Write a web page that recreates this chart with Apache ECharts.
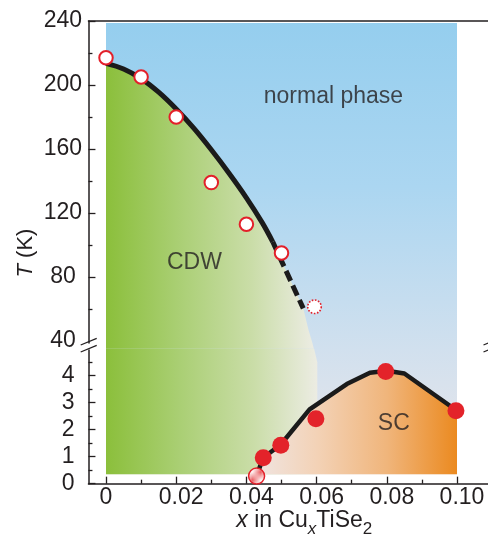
<!DOCTYPE html>
<html><head><meta charset="utf-8">
<style>html,body{margin:0;padding:0;background:#fff}#c{width:488px;height:535px}</style>
<script src="https://cdn.jsdelivr.net/npm/echarts@6/dist/echarts.min.js"></script>
</head><body><div id="c"></div>
<script>
// ---------------- data ----------------
const xTickLabels = [0, 0.02, 0.04, 0.06, 0.08, 0.10];
const xMinorTicks = [0.01, 0.03, 0.05, 0.07, 0.09];
const tHighLabels = [40, 80, 120, 160, 200, 240];
const tHighTicks = [80, 120, 160, 200, 240];
const tHighMinor = [60, 100, 140, 180, 220];
const tLowLabels = [0, 1, 2, 3, 4];
const tLowMinor = [0.5, 1.5, 2.5, 3.5, 4.5];

// CDW transition (open circles) and guide line
const cdwX = [0, 0.01, 0.02, 0.03, 0.04, 0.05];
const cdwT = [217, 205, 180, 139, 113, 95];
const cdwUncertain = [[0.0594, 61.4]];
const cdwSolid = [[0,213.5],[0.005,210],[0.01,204],[0.015,195.5],[0.02,185],[0.025,173],[0.03,159.5],[0.035,145],[0.04,129.5],[0.0445,114],[0.0475,102]];
const cdwDashed = [[0.0475,102],[0.0562,60.4]];
const cdwEdgeHigh = [[0.0577,46.9],[0.0588,38.75],[0.0593,34.4]];
const cdwEdgeLow = [[0.0593,5.0],[0.0602,4.5],[0.0602,0.35]];

// superconducting Tc (filled circles) and guide line
const scX = [0.0448, 0.0498, 0.0598, 0.0797, 0.0997];
const scT = [0.96, 1.42, 2.4, 4.15, 2.7];
const scOnset = [[0.0429, 0.28]];
const scLine = [[0.0432,0.4],[0.0448,0.96],[0.0498,1.45],[0.058,2.75],[0.0686,3.69],[0.0752,4.11],[0.08,4.18],[0.085,4.08],[0.1,2.7]];

// phase-region extents
const regionX = [0, 0.1];
const regionHighT = [34.4, 238.75];
const regionLowT = [0.35, 5.0];

// text annotations
const phaseLabels = [[0.0648, 192.5, 'normal phase'], [0.0252, 89, 'CDW']];
const scLabel = [[0.082, 2.21, 'SC']];

// ---------------- chart ----------------
const FONT = "'Liberation Sans', Arial, sans-serif";
const INK = '#231f20';
const chart = echarts.init(document.getElementById('c'), null, {renderer:'canvas'});

const pc = document.createElement('canvas'); pc.width = 4; pc.height = 4;
const g = pc.getContext('2d');
g.fillStyle = '#fdf3f2'; g.fillRect(0,0,4,4);
g.strokeStyle = '#ea5c60'; g.lineWidth = 1;
g.beginPath(); g.moveTo(0,4); g.lineTo(4,0); g.moveTo(-1,1); g.lineTo(1,-1); g.moveTo(3,5); g.lineTo(5,3); g.stroke();

function poly(xi, yi, pts, fill, z) {
  return {type:'custom', xAxisIndex:xi, yAxisIndex:yi, z:z, silent:true, clip:false, data:[0],
    renderItem:(p, api) => ({type:'polygon', shape:{points: pts.map(q => api.coord(q))}, style:{fill:fill}})};
}
const LG = echarts.graphic.LinearGradient;
const blueHigh = new LG(0,0,0,1,[{offset:0,color:'#95ceee'},{offset:0.5,color:'#abd6f1'},{offset:1,color:'#d1e0ee'}]);
const blueLow = new LG(0,0,0,1,[{offset:0,color:'#d1e0ee'},{offset:1,color:'#ebe7ea'}]);
const greenStops = [{offset:0,color:'#8bbf3b'},{offset:0.35,color:'#aacf74'},{offset:0.7,color:'#cadda8'},{offset:1,color:'#ecece3'}];
const greenHigh = new LG(0,0,1,0,greenStops);
const greenLow = new LG(0,0,1,0,greenStops);
const scFill = new LG(0,0,1,0,[{offset:0,color:'#f0e4e0'},{offset:0.3,color:'#f3d2b6'},{offset:0.65,color:'#f0b57b'},{offset:1,color:'#eb8a20'}]);

const rect = (xs, ts) => [[xs[0],ts[1]],[xs[1],ts[1]],[xs[1],ts[0]],[xs[0],ts[0]]];
const greenHighPts = [[0, regionHighT[0]]].concat(cdwSolid, cdwDashed.slice(1), cdwEdgeHigh);
const greenLowPts = [[0, regionLowT[1]]].concat(cdwEdgeLow, [[0, regionLowT[0]]]);
const scPts = scLine.concat([[regionX[1], regionLowT[0]], [scLine[0][0], regionLowT[0]]]);

const LEFT = 88.45, WIDTH = 403.65;
const xBase = {type:'value', min:-0.005, max:0.11, splitLine:{show:false}};
const axLine = {show:true, onZero:false, lineStyle:{color:INK, width:1.5}};
const noLine = {show:false, onZero:false};
const tickStyle = {color:INK, width:1.3};

chart.setOption({
  animation:false,
  grid:[
    {left:LEFT, top:21, width:WIDTH, height:322, outerBoundsMode:'none', containLabel:false},
    {left:LEFT, top:350, width:WIDTH, height:133.67, outerBoundsMode:'none', containLabel:false}
  ],
  xAxis:[
    Object.assign({}, xBase, {gridIndex:0, position:'top', axisLine:axLine, axisTick:{show:false}, axisLabel:{show:false}}),
    Object.assign({}, xBase, {gridIndex:1, position:'bottom', axisLine:axLine,
      axisTick:{show:true, inside:true, length:7, customValues:xTickLabels, lineStyle:tickStyle},
      axisLabel:{customValues:xTickLabels, margin:2, fontSize:23, fontFamily:FONT, color:INK,
        formatter:v => v === 0 ? '0' : '{r|' + v.toFixed(2) + '}',
        rich:{r:{fontSize:23, fontFamily:FONT, color:INK, padding:[0,0,0,10]}}},
      name:'{i|x} in Cu{si|x}TiSe{s|2}', nameLocation:'middle', nameGap:20,
      nameTextStyle:{fontSize:23, fontFamily:FONT, color:INK, padding:[0,0,0,28],
        rich:{i:{fontSize:23, fontStyle:'italic', fontFamily:FONT, color:INK},
              si:{fontSize:17, fontStyle:'italic', fontFamily:FONT, color:INK, padding:[16,0,0,0]},
              s:{fontSize:17, fontFamily:FONT, color:INK, padding:[16,0,0,0]}}}}),
    Object.assign({}, xBase, {gridIndex:1, position:'bottom', axisLine:noLine,
      axisTick:{show:true, inside:true, length:4, customValues:xMinorTicks, lineStyle:tickStyle}, axisLabel:{show:false}})
  ],
  yAxis:[
    {type:'value', gridIndex:0, position:'left', min:38.75, max:240, splitLine:{show:false}, axisLine:axLine,
      axisTick:{show:true, inside:true, length:7, customValues:tHighTicks, lineStyle:tickStyle},
      axisLabel:{customValues:tHighLabels, margin:25.5, align:'center', fontSize:23, fontFamily:FONT, color:INK}},
    {type:'value', gridIndex:0, position:'left', min:38.75, max:240, splitLine:{show:false}, axisLine:noLine,
      axisTick:{show:true, inside:true, length:4, customValues:tHighMinor, lineStyle:tickStyle}, axisLabel:{show:false}},
    {type:'value', gridIndex:1, position:'left', min:0, max:4.95, splitLine:{show:false}, axisLine:axLine,
      axisTick:{show:true, inside:true, length:7, customValues:tLowLabels, lineStyle:tickStyle},
      axisLabel:{customValues:tLowLabels, margin:14, fontSize:23, fontFamily:FONT, color:INK}},
    {type:'value', gridIndex:1, position:'left', min:0, max:4.95, splitLine:{show:false}, axisLine:noLine,
      axisTick:{show:true, inside:true, length:4, customValues:tLowMinor, lineStyle:tickStyle}, axisLabel:{show:false}}
  ],
  graphic:[
    {type:'text', x:26, y:253, rotation:Math.PI/2, style:{text:'{i|T} (K)', fontSize:22, fontFamily:FONT, fill:INK,
      align:'center', verticalAlign:'middle', rich:{i:{fontStyle:'italic', fontSize:22, fontFamily:FONT, fill:INK}}}},
    {type:'line', shape:{x1:80.7, y1:345, x2:96.7, y2:338.3}, style:{stroke:INK, lineWidth:1.3}},
    {type:'line', shape:{x1:80.7, y1:352, x2:96.7, y2:345.3}, style:{stroke:INK, lineWidth:1.3}},
    {type:'line', shape:{x1:483.5, y1:345, x2:499.5, y2:338.3}, style:{stroke:INK, lineWidth:1.3}},
    {type:'line', shape:{x1:483.5, y1:352, x2:499.5, y2:345.3}, style:{stroke:INK, lineWidth:1.3}}
  ],
  series:[
    poly(0, 0, rect(regionX, regionHighT), blueHigh, 1),
    poly(0, 0, greenHighPts, greenHigh, 1),
    poly(1, 2, rect(regionX, regionLowT), blueLow, 1),
    poly(1, 2, greenLowPts, greenLow, 1),
    poly(1, 2, scPts, scFill, 1),
    {type:'line', xAxisIndex:0, yAxisIndex:0, z:3, data:cdwSolid, smooth:0.35, symbol:'none', silent:true,
      lineStyle:{color:'#1b1b1b', width:5}},
    {type:'line', xAxisIndex:0, yAxisIndex:0, z:3, data:cdwDashed, symbol:'none', silent:true,
      lineStyle:{color:'#1b1b1b', width:5, type:[11,5], cap:'butt'}},
    {type:'line', xAxisIndex:1, yAxisIndex:2, z:3, data:scLine, symbol:'none', silent:true,
      lineStyle:{color:'#1b1b1b', width:4.5, join:'round'}},
    {type:'scatter', xAxisIndex:0, yAxisIndex:0, z:5, data:cdwX.map((x,i)=>[x,cdwT[i]]), symbolSize:13.5, silent:true,
      itemStyle:{color:'#ffffff', borderColor:'#e3202a', borderWidth:2, opacity:1}},
    {type:'scatter', xAxisIndex:0, yAxisIndex:0, z:5, data:cdwUncertain, symbolSize:13.5, silent:true,
      itemStyle:{color:'#ffffff', borderColor:'#e3202a', borderWidth:1.6, borderType:[1.6,1.6], opacity:1}},
    {type:'scatter', xAxisIndex:1, yAxisIndex:2, z:5, data:scX.map((x,i)=>[x,scT[i]]), symbolSize:17, silent:true,
      itemStyle:{color:'#e3232a', opacity:1}},
    {type:'scatter', xAxisIndex:1, yAxisIndex:2, z:5, data:scOnset, symbolSize:16, silent:true,
      itemStyle:{color:{image:pc, repeat:'repeat'}, borderColor:'#e3202a', borderWidth:1.5, opacity:1}},
    {type:'scatter', xAxisIndex:0, yAxisIndex:0, z:6, data:phaseLabels, symbolSize:0, silent:true,
      label:{show:true, position:'inside', formatter:p => p.value[2], fontSize:23, fontFamily:FONT, color:INK}},
    {type:'scatter', xAxisIndex:1, yAxisIndex:2, z:6, data:scLabel, symbolSize:0, silent:true,
      label:{show:true, position:'inside', formatter:p => p.value[2], fontSize:23, fontFamily:FONT, color:INK}}
  ]
});
</script></body></html>
